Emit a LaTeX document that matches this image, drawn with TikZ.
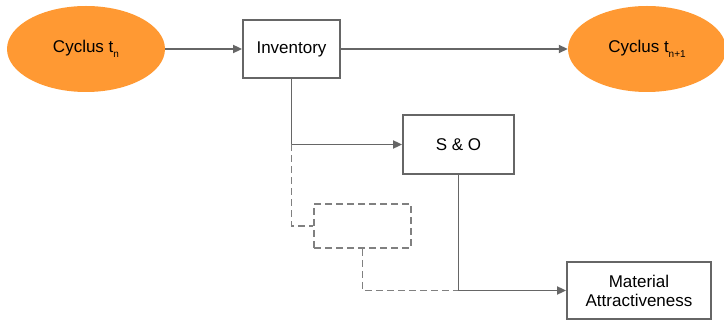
\documentclass[tikz,border=0pt]{standalone}
\usepackage{fontspec}
\setmainfont{Liberation Sans}
\usetikzlibrary{arrows.meta,shapes.geometric}
\definecolor{cyclorange}{RGB}{255,153,51}
\definecolor{linegray}{RGB}{102,102,102}
\definecolor{dashgray}{RGB}{128,128,128}
\tikzset{
  cycl/.style={ellipse,fill=cyclorange,minimum width=158pt,minimum height=86pt,inner sep=0pt},
  blok/.style={draw=linegray,line width=1.8pt,fill=white,align=center},
  arr/.style={draw=linegray,line width=1.8pt,-{Triangle[length=9pt,width=8pt]}},
  verb/.style={draw=linegray,line width=1.8pt},
  stip/.style={draw=dashgray,line width=1.8pt,dash pattern=on 7pt off 4pt}
}
\newcommand{\subt}[1]{\raisebox{-5pt}{\fontsize{10}{10}\selectfont #1}}
\begin{document}
\begin{tikzpicture}[x=1pt,y=-1pt,font=\fontsize{17}{20}\selectfont]
			\useasboundingbox (0,0) rectangle (724,320);
											
			\node[cycl] (c0) at (86,49) {Cyclus t\subt{n}};
			\node[cycl] (c1) at (647,49) {Cyclus t\subt{n+1}};
											
			\node[blok,minimum width=97pt,minimum height=58pt] (inv) at (291.5,49) {Inventory};
			\node[blok,minimum width=111pt,minimum height=59pt] (so) at (458.5,144.5) {S \& O};
			\node[stip,minimum width=97pt,minimum height=44pt] (dbox) at (362.5,226) {};
			\node[blok,minimum width=144pt,minimum height=57pt,inner sep=1pt,font=\fontsize{17}{19}\selectfont] (mat) at (639,290.5) {Material\\Attractiveness};
											
			\coordinate (split) at (inv.south |- so.west);
			\coordinate (join) at (so.south |- mat.west);
											
			\draw[arr] (c0) -- (inv);
			\draw[arr] (inv) -- (c1);
			\draw[verb] (inv.south) -- (split);
			\draw[arr] (split) -- (so.west);
			\draw[stip] (split) |- (dbox.west);
			\draw[stip] (dbox.south) |- (join);
			\draw[arr] (so.south) |- (mat.west);
		\end{tikzpicture}
\end{document}
